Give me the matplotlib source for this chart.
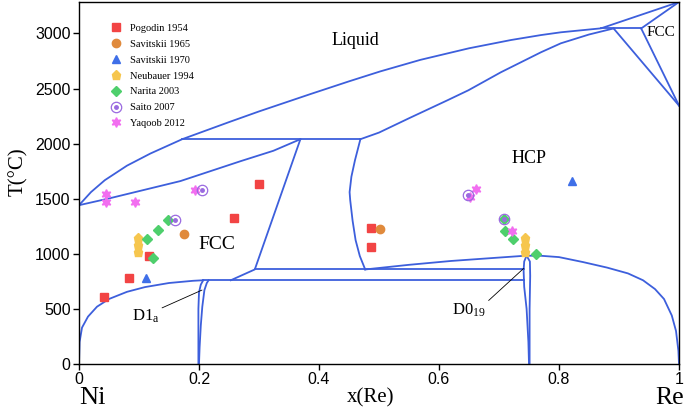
import numpy as np
import matplotlib
matplotlib.use("Agg")
import matplotlib.pyplot as plt

plt.rcParams['mathtext.fontset'] = 'stix'

# ---- phase boundaries (x(Re), T in °C) ----
liq_x = [0, 0.02, 0.043, 0.08, 0.119, 0.172, 0.25, 0.30, 0.386, 0.45, 0.502, 0.569, 0.65, 0.72, 0.77, 0.803, 0.87, 1.0]
liq_T = [1441, 1560, 1668, 1800, 1910, 2040, 2195, 2292, 2450, 2565, 2655, 2760, 2865, 2940, 2985, 3010, 3046, 3285]

fcc_sol_x = [0, 0.052, 0.169, 0.269, 0.324, 0.369]
fcc_sol_T = [1441, 1505, 1660, 1840, 1935, 2040]

fcc_solv_x = [0.369, 0.293, 0.253]
fcc_solv_T = [2040, 858, 760]

hcp_sol_x = [0.469, 0.50, 0.55, 0.614, 0.649, 0.703, 0.77, 0.803, 0.85, 0.891]
hcp_sol_T = [2040, 2100, 2230, 2393, 2484, 2647, 2829, 2910, 2990, 3045]

hcp_left_x = [0.469, 0.460, 0.454, 0.451, 0.452, 0.456, 0.461, 0.468, 0.477]
hcp_left_T = [2040, 1850, 1700, 1560, 1487, 1300, 1124, 980, 858]

hcp_low_x = [0.477, 0.55, 0.62, 0.69, 0.745]
hcp_low_T = [858, 900, 935, 962, 983]

dome_x = [0.745, 0.77, 0.80, 0.84, 0.88, 0.915, 0.94, 0.96, 0.975, 0.988, 0.995, 0.999, 1.0]
dome_T = [983, 982, 970, 925, 875, 822, 760, 680, 590, 440, 300, 120, 0]

ni_x = [0, 0.001, 0.005, 0.015, 0.03, 0.05, 0.08, 0.11, 0.15, 0.19, 0.207]
ni_T = [0, 200, 330, 430, 520, 590, 655, 698, 735, 755, 760]

d1a_l_x = [0.199, 0.199, 0.200, 0.203, 0.207]
d1a_l_T = [0, 500, 650, 720, 760]
d1a_r_x = [0.200, 0.201, 0.203, 0.2055, 0.209, 0.213, 0.216]
d1a_r_T = [0, 150, 350, 520, 670, 735, 760]

d019_l_x = [0.750, 0.749, 0.746, 0.742, 0.741, 0.742, 0.746]
d019_l_T = [0, 200, 500, 700, 850, 930, 983]
d019_r_x = [0.751, 0.751, 0.752, 0.7515, 0.746]
d019_r_T = [0, 500, 800, 930, 983]

# horizontal invariants
inv_T = [2040, 858, 760, 3045]
inv_x0 = [0.172, 0.293, 0.207, 0.870]
inv_x1 = [0.469, 0.741, 0.741, 0.937]

# Re side, high temperature
re_lines = [([0.891, 1.0], [3045, 2345]),
            ([0.937, 1.0], [3045, 2345]),
            ([0.937, 1.0], [3045, 3285])]

# ---- experimental data ----
pog_x = [0.041, 0.083, 0.116, 0.258, 0.300, 0.486, 0.486]
pog_T = [605, 782, 979, 1321, 1632, 1230, 1058]
sav65_x = [0.175, 0.501]
sav65_T = [1176, 1227]
sav70_x = [0.111, 0.821]
sav70_T = [782, 1662]
neu_x = [0.0985, 0.0985, 0.0985, 0.744, 0.744, 0.744]
neu_T = [1139, 1076, 1012, 1145, 1082, 1015]
nar_x = [0.114, 0.124, 0.132, 0.149, 0.708, 0.710, 0.723, 0.762]
nar_T = [1130, 964, 1220, 1306, 1314, 1209, 1130, 1000]
sai_x = [0.160, 0.205, 0.648, 0.708]
sai_T = [1306, 1578, 1532, 1314]
yaq_x = [0.045, 0.045, 0.094, 0.194, 0.651, 0.662, 0.722]
yaq_T = [1541, 1472, 1472, 1578, 1511, 1592, 1209]

line_c = '#3d5fdc'
serif = 'Liberation Serif'
sans = 'Liberation Sans'

fig = plt.figure(figsize=(6.85, 4.15), dpi=100)
ax = fig.add_axes([79 / 685, 51 / 415, 600 / 685, 362 / 415])

kw = dict(color=line_c, lw=1.3, zorder=2)
ax.plot(liq_x, liq_T, **kw)
ax.plot(fcc_sol_x, fcc_sol_T, **kw)
ax.plot(fcc_solv_x, fcc_solv_T, **kw)
ax.plot(hcp_sol_x, hcp_sol_T, **kw)
ax.plot(hcp_left_x, hcp_left_T, **kw)
ax.plot(hcp_low_x, hcp_low_T, **kw)
ax.plot(dome_x, dome_T, **kw)
ax.plot(ni_x, ni_T, **kw)
ax.plot(d1a_l_x, d1a_l_T, **kw)
ax.plot(d1a_r_x, d1a_r_T, **kw)
ax.plot(d019_l_x, d019_l_T, **kw)
ax.plot(d019_r_x, d019_r_T, **kw)
for T, a, b in zip(inv_T, inv_x0, inv_x1):
    ax.plot([a, b], [T, T], **kw)
for xs, ts in re_lines:
    ax.plot(xs, ts, **kw)

h1, = ax.plot(pog_x, pog_T, 's', color='#f24444', ms=5.5, ls='none', zorder=3)
h2, = ax.plot(sav65_x, sav65_T, 'o', color='#e08a3c', ms=6, ls='none', zorder=3)
h3, = ax.plot(sav70_x, sav70_T, '^', color='#3f6fe8', ms=6, ls='none', zorder=3)
h4, = ax.plot(neu_x, neu_T, 'p', color='#f6c64e', ms=6.5, ls='none', zorder=3)
h5, = ax.plot(nar_x, nar_T, 'D', color='#4ecf6c', ms=5.5, ls='none', zorder=3)
h6a, = ax.plot(sai_x, sai_T, 'o', mfc='none', mec='#9a6ae0', mew=0.9, ms=7.5, ls='none', zorder=4)
h6b, = ax.plot(sai_x, sai_T, 'o', color='#9a6ae0', ms=2.5, ls='none', zorder=4)
h7, = ax.plot(yaq_x, yaq_T, marker=(6, 1, 0), color='#f26ef0', ms=7, ls='none', zorder=3)

ax.legend([h1, h2, h3, h4, h5, (h6a, h6b), h7],
          ['Pogodin 1954', 'Savitskii 1965', 'Savitskii 1970', 'Neubauer 1994',
           'Narita 2003', 'Saito 2007', 'Yaqoob 2012'],
          loc='upper left', bbox_to_anchor=(0.037, 0.966), frameon=False,
          prop={'family': serif, 'size': 7.5}, labelspacing=0.63,
          handletextpad=0.9, handlelength=1.0)

# region labels
ax.text(0.46, 2940, 'Liquid', family=serif, fontsize=13, ha='center', va='center')
ax.text(0.23, 1080, 'FCC', family=serif, fontsize=14, ha='center', va='center')
ax.text(0.75, 1868, 'HCP', family=serif, fontsize=13, ha='center', va='center')
ax.text(0.97, 3010, 'FCC', family=serif, fontsize=11, ha='center', va='center')
ax.annotate(r'D1$\mathregular{_a}$', xy=(0.205, 671), xytext=(0.088, 435),
            family=serif, fontsize=12, va='center',
            arrowprops=dict(arrowstyle='-', color='k', lw=0.6, shrinkA=0, shrinkB=0,
                            relpos=(1, 0.9)))
ax.annotate(r'D0$\mathregular{_{19}}$', xy=(0.741, 867), xytext=(0.622, 490),
            family=serif, fontsize=12, va='center',
            arrowprops=dict(arrowstyle='-', color='k', lw=0.6, shrinkA=0, shrinkB=0,
                            relpos=(1, 0.9)))

ax.set_xlim(0, 1)
ax.set_ylim(0, 3285)
ax.set_xticks([0, 0.2, 0.4, 0.6, 0.8, 1])
ax.set_xticklabels(['0', '0.2', '0.4', '0.6', '0.8', '1'])
ax.set_yticks(range(0, 3001, 500))
ax.tick_params(labelsize=11.5, direction='out', length=4, width=1, pad=2)
for lab in ax.get_xticklabels() + ax.get_yticklabels():
    lab.set_family(sans)
for s in ax.spines.values():
    s.set_linewidth(1.0)

fig.text(18 / 685, 1 - 172 / 415, 'T(°C)', family=serif, fontsize=15,
         rotation=90, ha='center', va='center')
fig.text(371 / 685, 1 - 398 / 415, 'x(Re)', family=serif, fontsize=15, ha='center', va='center')
fig.text(92 / 685, 1 - 398 / 415, 'Ni', family=serif, fontsize=19, ha='center', va='center')
fig.text(670 / 685, 1 - 398 / 415, 'Re', family=serif, fontsize=18.5, ha='center', va='center')

fig.savefig('out.png', dpi=100)
